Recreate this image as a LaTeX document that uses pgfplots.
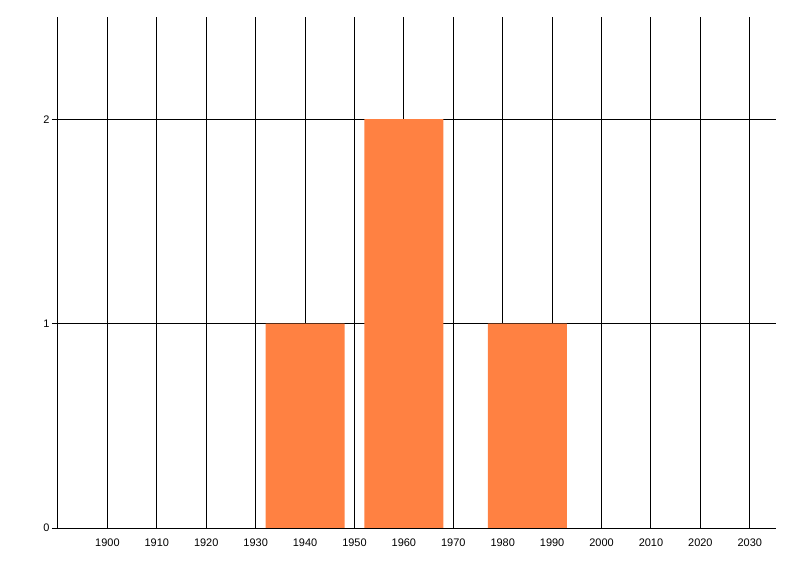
\documentclass[border=0pt]{standalone}
\usepackage{pgfplots}
\pgfplotsset{compat=1.18}
\usepackage{fontspec}
\setmainfont{Liberation Sans}
\definecolor{barorange}{HTML}{FF8142}

\begin{document}
\begin{tikzpicture}
\useasboundingbox (0,0) rectangle (800bp,576bp);
\begin{axis}[
    at={(58bp,48bp)}, anchor=south west,
    scale only axis,
    width=718bp, height=511bp,
    xmin=1890, xmax=2035.3,
    ymin=0, ymax=2.5,
    axis lines=left,
    axis line style={-, black, line width=1bp},
    xtick={1900,1910,...,2030},
    ytick={0,1,2},
    xticklabel style={/pgf/number format/1000 sep={}},
    /pgf/number format/assume math mode=true,
    ticklabel style={font=\fontsize{11}{13}\selectfont},
    x tick style={draw=none},
    y tick style={black, line width=1bp},
    tick align=outside,
    major tick length=6bp,
    xticklabel shift=1bp,
    yticklabel shift=-1bp,
    grid=major,
    major grid style={black, line width=1bp},
]
\addplot[ybar, bar width=16, fill=barorange, draw=none]
    coordinates {(1940,1) (1960,2) (1985,1)};
\end{axis}
\end{tikzpicture}
\end{document}
